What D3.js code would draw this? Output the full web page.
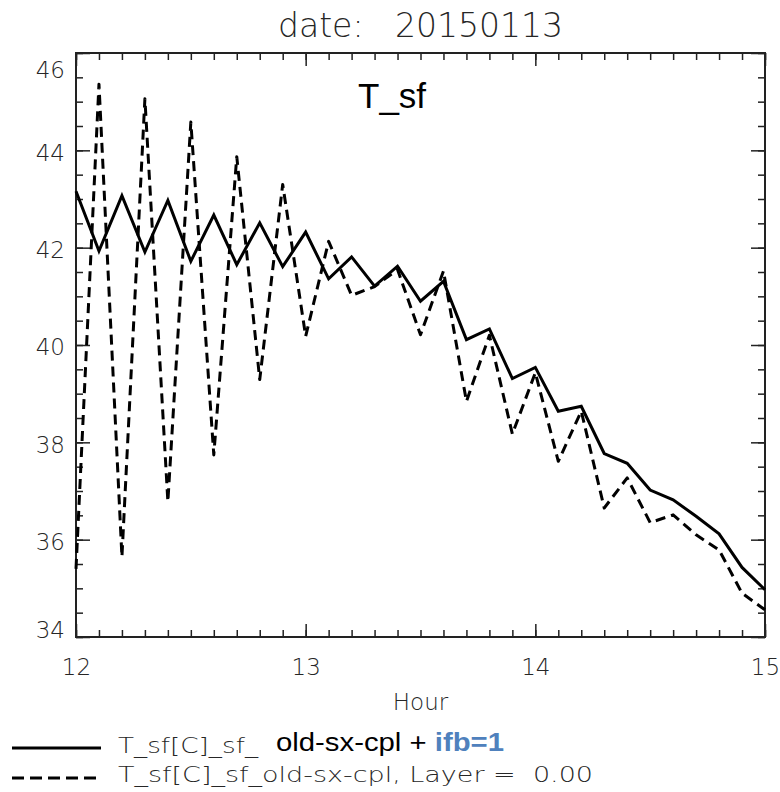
<!DOCTYPE html>
<html>
<head>
<meta charset="utf-8">
<script src="https://cdn.jsdelivr.net/npm/d3@7"></script>
<style>
  body { margin: 0; background: #fff; }
  .hershey { font-family: "DejaVu Sans", sans-serif; font-weight: 200; fill: #262626; }
  .arial { font-family: "Liberation Sans", Arial, sans-serif; font-weight: normal; }
</style>
</head>
<body>
<div id="chart"></div>
<script>
'use strict';

// hours along x (every 6 minutes)
var hours = [12.0, 12.1, 12.2, 12.3, 12.4, 12.5, 12.6, 12.7, 12.8, 12.9,
  13.0, 13.1, 13.2, 13.3, 13.4, 13.5, 13.6, 13.7, 13.8, 13.9,
  14.0, 14.1, 14.2, 14.3, 14.4, 14.5, 14.6, 14.7, 14.8, 14.9, 15.0];

// T_sf, new run (ifb=1)
var tsfIfb = [43.16, 41.93, 43.07, 41.91, 42.97, 41.72, 42.67, 41.65, 42.51, 41.61,
  42.32, 41.36, 41.81, 41.21, 41.62, 40.90, 41.31, 40.11, 40.33, 39.31,
  39.54, 38.64, 38.74, 37.77, 37.57, 37.02, 36.82, 36.48, 36.12, 35.43, 34.97];

// T_sf, old-sx-cpl
var tsfOld = [35.40, 45.36, 35.65, 45.06, 36.78, 44.58, 37.74, 43.87, 39.29, 43.30,
  40.18, 42.13, 41.02, 41.20, 41.55, 40.21, 41.52, 38.84, 40.20, 38.17,
  39.43, 37.61, 38.64, 36.65, 37.27, 36.35, 36.51, 36.10, 35.79, 34.90, 34.56];

var xTicks = [12, 13, 14, 15];
var yTicks = [34, 36, 38, 40, 42, 44, 46];

var graph = {
  width: 780,
  height: 792,
  left: 76,
  right: 765,
  top: 53,
  bottom: 637
};

var x = d3.scaleLinear().domain([12, 15]).range([graph.left, graph.right]);
var y = d3.scaleLinear().domain([34, 46]).range([graph.bottom, graph.top]);

var svg = d3.select('#chart').append('svg')
  .attr('width', graph.width)
  .attr('height', graph.height);

// minor tick positions
var xMinor = x.ticks(30);
var yMinor = y.ticks(24);

function tickAxis(axis, size, fmt) {
  return axis.tickSizeInner(size).tickSizeOuter(0).tickPadding(8).tickFormat(fmt);
}

// bottom
svg.append('g')
  .attr('class', 'axis')
  .attr('transform', 'translate(0,' + graph.bottom + ')')
  .call(tickAxis(d3.axisBottom(x).tickValues(xMinor), -7, ''));
svg.append('g')
  .attr('class', 'axis xmaj')
  .attr('transform', 'translate(0,' + graph.bottom + ')')
  .call(tickAxis(d3.axisBottom(x).tickValues(xTicks), -13, d3.format('d')));

// top
svg.append('g')
  .attr('class', 'axis')
  .attr('transform', 'translate(0,' + graph.top + ')')
  .call(tickAxis(d3.axisTop(x).tickValues(xMinor), -7, ''));
svg.append('g')
  .attr('class', 'axis')
  .attr('transform', 'translate(0,' + graph.top + ')')
  .call(tickAxis(d3.axisTop(x).tickValues(xTicks), -13, ''));

// left
svg.append('g')
  .attr('class', 'axis')
  .attr('transform', 'translate(' + graph.left + ',0)')
  .call(tickAxis(d3.axisLeft(y).tickValues(yMinor), -7, ''));
svg.append('g')
  .attr('class', 'axis ymaj')
  .attr('transform', 'translate(' + graph.left + ',0)')
  .call(tickAxis(d3.axisLeft(y).tickValues(yTicks), -14, d3.format('d')));

// right
svg.append('g')
  .attr('class', 'axis')
  .attr('transform', 'translate(' + graph.right + ',0)')
  .call(tickAxis(d3.axisRight(y).tickValues(yMinor), -7, ''));
svg.append('g')
  .attr('class', 'axis')
  .attr('transform', 'translate(' + graph.right + ',0)')
  .call(tickAxis(d3.axisRight(y).tickValues(yTicks), -14, ''));

svg.selectAll('.axis path').remove();
svg.selectAll('.axis line').attr('stroke', '#222').attr('stroke-width', 1.5);
svg.selectAll('.axis text')
  .attr('class', 'hershey')
  .attr('fill', null)
  .attr('font-family', null);

svg.selectAll('.xmaj text')
  .style('font-size', '23px')
  .attr('y', 22);

// IDL keeps the end labels inside the range
svg.selectAll('.ymaj text')
  .style('font-size', '23px')
  .attr('x', -11)
  .attr('dy', function(d) {
    if (d === 46) return '1.05em';
    if (d === 34) return '0.0em';
    return '0.42em';
  });

// frame
svg.append('rect')
  .attr('x', graph.left)
  .attr('y', graph.top)
  .attr('width', graph.right - graph.left)
  .attr('height', graph.bottom - graph.top)
  .attr('fill', 'none')
  .attr('stroke', '#222')
  .attr('stroke-width', 2);

var valueLine = function(values) {
  return d3.line()
    .x(function(d, i) { return x(hours[i]); })
    .y(function(d) { return y(d); })(values);
};

svg.append('path')
  .attr('d', valueLine(tsfOld))
  .attr('fill', 'none')
  .attr('stroke', '#000')
  .attr('stroke-width', 3)
  .attr('stroke-dasharray', '10,6')
  .attr('stroke-linejoin', 'round');

svg.append('path')
  .attr('d', valueLine(tsfIfb))
  .attr('fill', 'none')
  .attr('stroke', '#000')
  .attr('stroke-width', 3)
  .attr('stroke-linejoin', 'miter');

// title
svg.append('text')
  .attr('class', 'hershey')
  .attr('x', (graph.left + graph.right) / 2)
  .attr('y', 37)
  .attr('text-anchor', 'middle')
  .style('font-size', '33px')
  .style('white-space', 'pre')
  .text('date:   20150113');

// x label
svg.append('text')
  .attr('class', 'hershey')
  .attr('x', (graph.left + graph.right) / 2)
  .attr('y', 710)
  .attr('text-anchor', 'middle')
  .style('font-size', '23px')
  .text('Hour');

// variable label inside the plot
svg.append('text')
  .attr('class', 'arial')
  .attr('x', 358)
  .attr('y', 108)
  .style('font-size', '35px')
  .text('T_sf');

// legend
var legend = svg.append('g');

legend.append('line')
  .attr('x1', 12).attr('x2', 101)
  .attr('y1', 748).attr('y2', 748)
  .attr('stroke', '#000')
  .attr('stroke-width', 3);

legend.append('line')
  .attr('x1', 12).attr('x2', 101)
  .attr('y1', 778).attr('y2', 778)
  .attr('stroke', '#000')
  .attr('stroke-width', 3)
  .attr('stroke-dasharray', '12,6');

legend.append('text')
  .attr('class', 'hershey')
  .attr('x', 118)
  .attr('y', 753)
  .attr('textLength', 140)
  .attr('lengthAdjust', 'spacingAndGlyphs')
  .style('font-size', '21px')
  .text('T_sf[C]_sf_');

legend.append('text')
  .attr('class', 'hershey')
  .attr('x', 118)
  .attr('y', 782)
  .attr('textLength', 475)
  .attr('lengthAdjust', 'spacingAndGlyphs')
  .style('font-size', '21px')
  .style('white-space', 'pre')
  .text('T_sf[C]_sf_old-sx-cpl, Layer =  0.00');

var note = legend.append('text')
  .attr('class', 'arial')
  .attr('x', 276)
  .attr('y', 751)
  .attr('textLength', 228)
  .attr('lengthAdjust', 'spacingAndGlyphs')
  .style('font-size', '25px')
  .style('white-space', 'pre');
note.append('tspan').attr('fill', '#000').attr('font-weight', 'normal').text('old-sx-cpl + ');
note.append('tspan').attr('fill', '#4f81bd').attr('font-weight', 'bold').text('ifb=1');
</script>
</body>
</html>
